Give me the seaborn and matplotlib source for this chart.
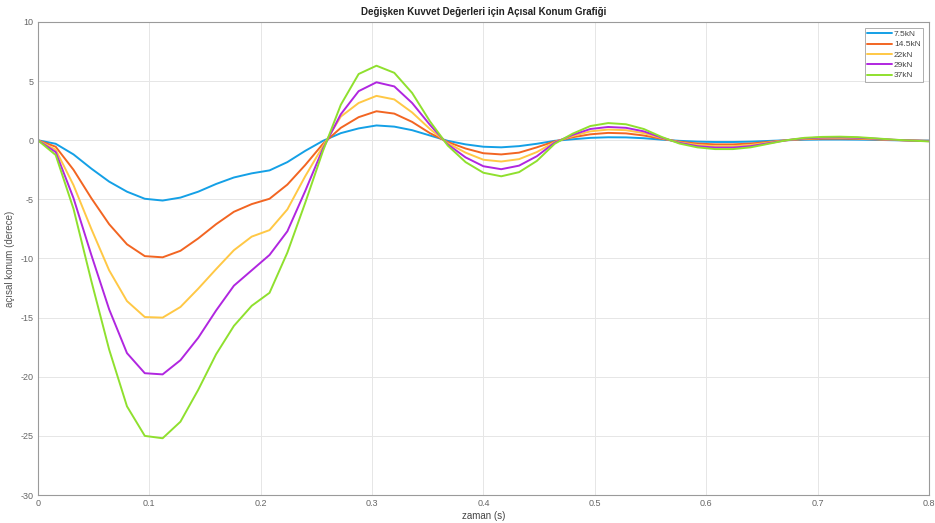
import numpy as np
import pandas as pd
import matplotlib
matplotlib.use('Agg')
import matplotlib.pyplot as plt
import seaborn as sns

# zaman ekseni (s), 51 nokta
zaman = np.linspace(0, 0.8, 51)

kuvvetler = ['7.5kN', '14.5kN', '22kN', '29kN', '37kN']
renkler = ['#14A0E6', '#F26522', '#FFC845', '#B026E0', '#8FE02E']

# açısal konum (derece)
konum_7_5 = [0, -0.3, -1.2, -2.4, -3.5, -4.35, -4.95, -5.1, -4.85, -4.35,
             -3.7, -3.15, -2.8, -2.55, -1.85, -0.9, -0.05, 0.6, 1.0, 1.25,
             1.15, 0.85, 0.4, -0.05, -0.35, -0.55, -0.6, -0.5, -0.3, -0.05,
             0.08, 0.2, 0.25, 0.24, 0.17, 0.05, -0.05, -0.12, -0.15, -0.15,
             -0.12, -0.06, 0.0, 0.04, 0.06, 0.06, 0.05, 0.03, 0.0, -0.02, -0.03]
konum_14_5 = [0, -0.55, -2.5, -4.9, -7.1, -8.8, -9.8, -9.9, -9.35, -8.3,
              -7.1, -6.05, -5.4, -4.95, -3.75, -2.1, -0.3, 1.05, 1.95, 2.45,
              2.25, 1.55, 0.6, -0.15, -0.7, -1.1, -1.2, -1.05, -0.6, -0.1,
              0.25, 0.5, 0.62, 0.58, 0.4, 0.12, -0.12, -0.28, -0.35, -0.35,
              -0.28, -0.14, 0.0, 0.09, 0.13, 0.14, 0.12, 0.07, 0.02, -0.02, -0.05]
konum_22 = [0, -0.8, -3.8, -7.5, -11.0, -13.6, -14.95, -15.0, -14.1, -12.55,
            -10.9, -9.3, -8.15, -7.6, -5.85, -3.05, -0.5, 2.0, 3.15, 3.75,
            3.45, 2.35, 0.95, -0.25, -1.05, -1.65, -1.8, -1.6, -1.0, -0.15,
            0.35, 0.75, 0.9, 0.85, 0.6, 0.18, -0.18, -0.4, -0.5, -0.5,
            -0.4, -0.2, 0.0, 0.13, 0.19, 0.2, 0.17, 0.1, 0.03, -0.03, -0.07]
konum_29 = [0, -1.0, -4.9, -9.7, -14.3, -18.0, -19.7, -19.8, -18.6, -16.7,
            -14.4, -12.3, -11.0, -9.7, -7.7, -4.3, -0.7, 2.2, 4.15, 4.9,
            4.55, 3.15, 1.3, -0.35, -1.45, -2.2, -2.45, -2.15, -1.35, -0.2,
            0.45, 0.95, 1.12, 1.05, 0.75, 0.22, -0.22, -0.5, -0.62, -0.62,
            -0.5, -0.25, 0.0, 0.16, 0.23, 0.25, 0.21, 0.13, 0.04, -0.03, -0.08]
konum_37 = [0, -1.25, -5.8, -11.9, -17.7, -22.5, -25.0, -25.2, -23.8, -21.1,
            -18.1, -15.7, -14.0, -12.9, -9.5, -5.3, -0.9, 3.0, 5.6, 6.3,
            5.7, 4.0, 1.6, -0.45, -1.85, -2.75, -3.05, -2.7, -1.75, -0.3,
            0.55, 1.2, 1.45, 1.35, 0.95, 0.28, -0.28, -0.6, -0.75, -0.75,
            -0.6, -0.3, 0.0, 0.2, 0.28, 0.3, 0.26, 0.16, 0.05, -0.03, -0.1]

seriler = [konum_7_5, konum_14_5, konum_22, konum_29, konum_37]

df = pd.concat([pd.DataFrame({'zaman': zaman, 'konum': s, 'kuvvet': k})
                for k, s in zip(kuvvetler, seriler)], ignore_index=True)

sns.set_style('whitegrid')
plt.rcParams['font.family'] = ['Liberation Sans', 'DejaVu Sans']
plt.rcParams['axes.unicode_minus'] = False

fig = plt.figure(figsize=(9.35, 5.23), dpi=100)
ax = fig.add_axes([0.0405, 0.0535, 0.953, 0.9045])

sns.lineplot(data=df, x='zaman', y='konum', hue='kuvvet', hue_order=kuvvetler,
             palette=renkler, linewidth=1.4, ax=ax)

ax.set_xlim(0, 0.8)
ax.set_ylim(-30, 10)
ax.set_xticks(np.arange(0, 0.81, 0.1))
ax.set_xticklabels(['0', '0.1', '0.2', '0.3', '0.4', '0.5', '0.6', '0.7', '0.8'])
ax.set_yticks(np.arange(-30, 11, 5))
ax.grid(True, color='#e6e6e6', linewidth=0.7)
for sp in ax.spines.values():
    sp.set_color('#9a9a9a')
    sp.set_linewidth(0.8)
ax.tick_params(direction='in', length=3, width=0.6, colors='#9a9a9a',
               labelcolor='#666666', labelsize=6.5, pad=3)

ax.set_title('Değişken Kuvvet Değerleri için Açısal Konum Grafiği',
             fontsize=7, fontweight='bold', color='#222222', pad=5)
ax.set_xlabel('zaman (s)', fontsize=7, color='#444444', labelpad=2)
ax.set_ylabel('açısal konum (derece)', fontsize=7, color='#555555', labelpad=4)

leg = ax.legend(loc='upper right', fontsize=6, frameon=True, fancybox=False,
                handlelength=3.0, handletextpad=0.2, borderpad=0.3,
                labelspacing=0.3, borderaxespad=0.7)
leg.get_frame().set_edgecolor('#8a8a8a')
leg.get_frame().set_linewidth(0.6)
for t in leg.get_texts():
    t.set_color('#444444')

fig.savefig('out.png', dpi=100)
